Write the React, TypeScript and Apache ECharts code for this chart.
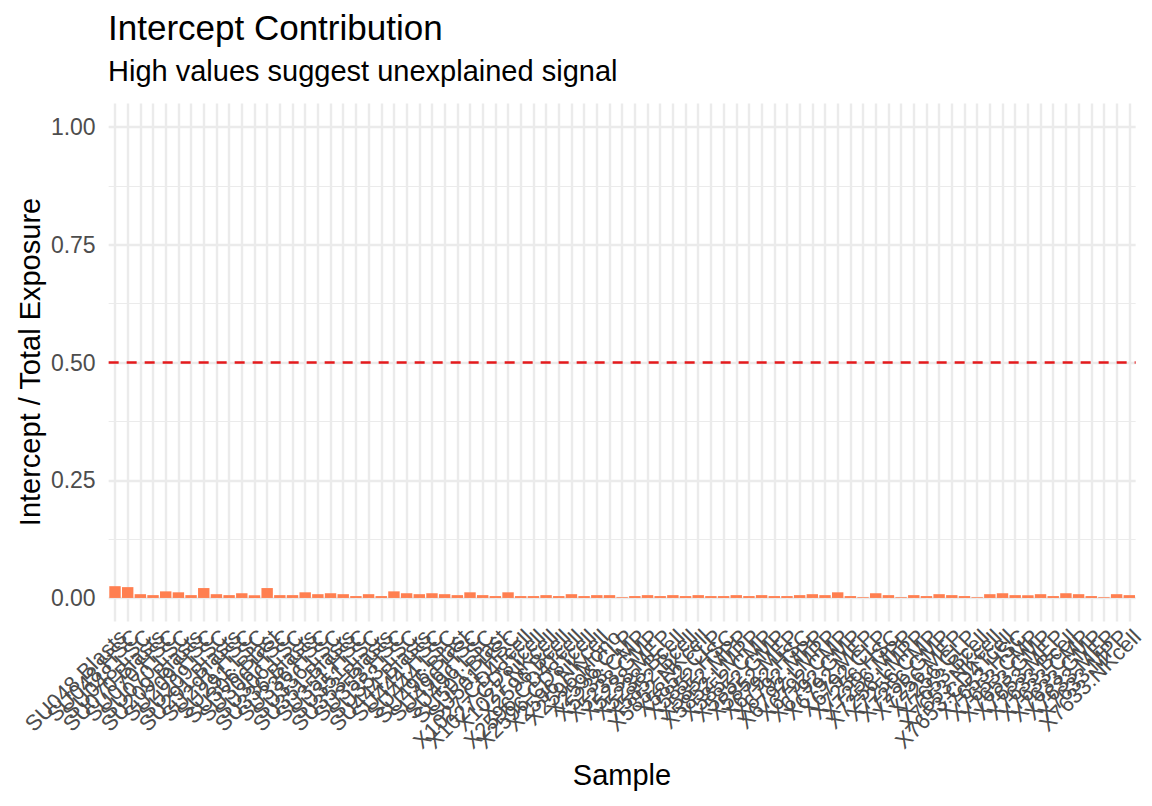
import React, { useEffect, useRef } from "react";
import * as echarts from "echarts";

const categories: string[] = [
  "SU048.Blasts", "SU048.HSC", "SU048.LSC", "SU070.Blasts", "SU070.HSC", "SU070.LSC",
  "SU209.Blasts", "SU209.HSC", "SU209.LSC", "SU291.Blasts", "SU291.HSC", "SU291.LSC",
  "SU306.Blast", "SU306.HSC", "SU306.LSC", "SU336.Blasts", "SU336.HSC", "SU336.LSC",
  "SU351.Blasts", "SU351.HSC", "SU351.LSC", "SU353.Blasts", "SU353.HSC", "SU353.LSC",
  "SU444.Blasts", "SU444.HSC", "SU444.LSC", "SU496.Blast", "SU496.HSC", "SU496.LSC",
  "SU501.Blast", "SU501.HSC",
  "X1027.CD4Tcell", "X1027.CD8Tcell", "X1027.NKcell", "X2596.Bcell", "X2596.CD4Tcell",
  "X2596.CD8Tcell", "X2596.NKcell", "X2596.Mono", "X2596.CLP",
  "X5238.CMP", "X5238.GMP", "X5238.MEP", "X5238.Bcell",
  "X5852.Bcell", "X5852.NKcell", "X5852.CLP", "X5852.HSC", "X5852.MPP", "X5852.LMPP",
  "X5852.CMP", "X5852.GMP", "X5852.MEP",
  "X6792.HSC", "X6792.MPP", "X6792.LMPP", "X6792.CMP", "X6792.GMP", "X6792.MEP", "X6792.CLP",
  "X7256.HSC", "X7256.MPP", "X7256.LMPP", "X7256.CMP", "X7256.GMP", "X7256.MEP", "X7256.CLP",
  "X7653.Bcell", "X7653.NKcell", "X7653.CD4Tcell", "X7653.HSC", "X7653.CMP", "X7653.GMP", "X7653.MEP",
  "X7633.Bcell", "X7633.CMP", "X7633.GMP", "X7633.MEP", "X7633.MPP", "X7633.NKcell",
];

const ratios: number[] = [
  0.025, 0.023, 0.008, 0.006, 0.014, 0.012, 0.006, 0.021, 0.008, 0.006,
  0.010, 0.006, 0.021, 0.006, 0.006, 0.012, 0.008, 0.010, 0.008, 0.004,
  0.008, 0.004, 0.014, 0.010, 0.008, 0.010, 0.008, 0.006, 0.012, 0.006,
  0.004, 0.012, 0.004, 0.004, 0.006, 0.004, 0.008, 0.004, 0.006, 0.006,
  0.0015, 0.004, 0.006, 0.004, 0.006, 0.004, 0.006, 0.004, 0.004, 0.006,
  0.004, 0.006, 0.004, 0.004, 0.006, 0.008, 0.006, 0.012, 0.004, 0.0015,
  0.010, 0.006, 0.0015, 0.006, 0.004, 0.008, 0.006, 0.004, 0.0015, 0.008,
  0.010, 0.006, 0.006, 0.008, 0.004, 0.010, 0.008, 0.004, 0.0015, 0.008,
  0.006,
];

const yTicks: number[] = [0, 0.25, 0.5, 0.75, 1];
const threshold = 0.5;

const FONT = "Liberation Sans, Arial, Helvetica, sans-serif";

export default function App() {
  const ref = useRef<HTMLDivElement>(null);
  useEffect(() => {
    if (!ref.current) return;
    const chart = echarts.init(ref.current, undefined, { renderer: "svg" });
    const left = 108.66;
    const right = 16.36;
    const option: any = {
      animation: false,
      backgroundColor: "#ffffff",
      textStyle: { fontFamily: FONT },
      grid: [
        { left, right, top: 103.5, bottom: 184.5, containLabel: false },
        { left, right, top: 127, bottom: 208, containLabel: false },
      ],
      xAxis: [
        {
          type: "category",
          gridIndex: 0,
          data: categories,
          axisLine: { show: false },
          axisTick: { show: false },
          splitLine: { show: false },
          axisLabel: {
            interval: 0,
            rotate: 45,
            align: "right",
            verticalAlign: "top",
            margin: 4,
            fontSize: 22,
            color: "#4d4d4d",
            fontFamily: FONT,
          },
        },
        {
          type: "category",
          gridIndex: 1,
          data: categories,
          show: false,
        },
      ],
      yAxis: [
        {
          type: "value",
          gridIndex: 0,
          min: -0.05,
          max: 1.05,
          show: false,
          splitLine: { show: false },
        },
        {
          type: "value",
          gridIndex: 1,
          min: yTicks[0],
          max: yTicks[yTicks.length - 1],
          interval: 0.25,
          axisLine: { show: false },
          axisTick: { show: false },
          axisLabel: {
            margin: 13,
            fontSize: 23,
            color: "#4d4d4d",
            fontFamily: FONT,
            formatter: (v: number) => v.toFixed(2),
          },
          splitLine: { show: true, lineStyle: { color: "#ebebeb", width: 2.4 } },
          minorTick: { show: false, splitNumber: 2 },
          minorSplitLine: { show: true, lineStyle: { color: "#ebebeb", width: 1.2 } },
        },
      ],
      series: [
        {
          type: "line",
          xAxisIndex: 0,
          yAxisIndex: 0,
          data: [],
          z: 1,
          silent: true,
          markLine: {
            silent: true,
            symbol: ["none", "none"],
            label: { show: false },
            lineStyle: { color: "#ebebeb", width: 2.4, type: "solid" },
            data: categories.map((c) => ({ xAxis: c })),
            z: 1,
          },
        },
        {
          type: "bar",
          xAxisIndex: 0,
          yAxisIndex: 0,
          data: ratios,
          barCategoryGap: "10%",
          itemStyle: { color: "#FF7F50" },
          z: 3,
          markLine: {
            silent: true,
            symbol: ["none", "none"],
            label: { show: false },
            lineStyle: { color: "#e41a1c", width: 2.6, type: [10, 8] },
            data: [{ yAxis: threshold }],
          },
        },
      ],
      graphic: [
        {
          type: "text",
          left: 108,
          top: 10,
          style: { text: "Intercept Contribution", fontSize: 35, fill: "#000", fontFamily: FONT },
        },
        {
          type: "text",
          left: 108,
          top: 56,
          style: { text: "High values suggest unexplained signal", fontSize: 29, fill: "#000", fontFamily: FONT },
        },
        {
          type: "text",
          x: 30,
          y: 362,
          rotation: Math.PI / 2,
          style: {
            text: "Intercept / Total Exposure",
            fontSize: 29,
            fill: "#000",
            fontFamily: FONT,
            align: "center",
            verticalAlign: "middle",
          },
        },
        {
          type: "text",
          x: 622,
          y: 775,
          style: {
            text: "Sample",
            fontSize: 29,
            fill: "#000",
            fontFamily: FONT,
            align: "center",
            verticalAlign: "middle",
          },
        },
      ],
    };
    chart.setOption(option);
    return () => chart.dispose();
  }, []);
  return <div ref={ref} style={{ width: 1152, height: 806, position: "absolute", left: 0, top: 0 }} />;
}
